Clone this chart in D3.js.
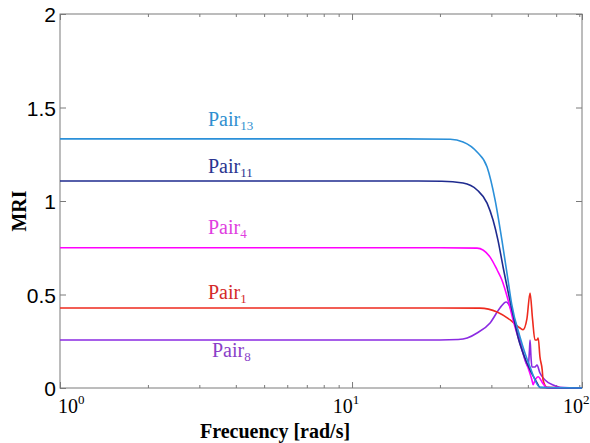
<!DOCTYPE html>
<html>
<head>
<meta charset="utf-8">
<script src="https://cdn.jsdelivr.net/npm/d3@7"></script>
<style>
  body { margin: 0; background: #fff; }
  svg { display: block; }
  .tick-label { font-family: "Liberation Sans", Arial, sans-serif; font-size: 21px; fill: #000; }
  .serif { font-family: "Liberation Serif", "Times New Roman", serif; }
</style>
</head>
<body>
<svg id="chart"></svg>
<script>
(function () {

// Series values: [frequency rad/s, MRI]
const pair13 = [[1,1.332],[15,1.332],[21.7,1.33],[24,1.316],[26.8,1.262],[29,1.182],[30.9,1.005],[32.6,0.791],[34.2,0.578],[35.2,0.45],[37.6,0.273],[40.7,0.112],[44,0.004],[61.3,0]];
const pair11 = [[1,1.107],[15,1.107],[20.3,1.106],[24,1.096],[26.8,1.059],[29,0.989],[30.4,0.898],[31.6,0.791],[32.9,0.647],[35.3,0.417],[37,0.273],[39.7,0.134],[43,0.027],[44,0.003],[61.3,0]];
const pair4  = [[1,0.75],[20,0.75],[26.8,0.748],[29.7,0.70],[31.4,0.631],[32.6,0.578],[34,0.487],[35.6,0.364],[38.5,0.187],[41.3,0.043],[41.7,0.018],[42.3,0.04],[43.4,0.06],[44.8,0.03],[46.5,0.002],[61.3,0]];
const pair1  = [[1,0.428],[20,0.428],[27.4,0.427],[31.4,0.406],[34.8,0.364],[37.6,0.321],[38.5,0.312],[39.7,0.37],[40.7,0.508],[41.5,0.37],[42.3,0.257],[43,0.257],[43.4,0.267],[44,0.166],[44.8,0.096],[45.1,0.043],[46.5,0.004],[61.3,0]];
const pair8  = [[1,0.257],[20,0.257],[23.1,0.259],[24.8,0.267],[26.8,0.294],[29.7,0.348],[32.1,0.428],[33.7,0.46],[34.8,0.433],[36.2,0.353],[37.6,0.257],[39.1,0.15],[40.1,0.115],[40.5,0.2],[40.7,0.257],[41,0.166],[41.3,0.112],[42.3,0.112],[43,0.123],[44,0.08],[45.8,0.043],[48.8,0.016],[51.6,0.004],[61.3,0]];

const seriesNames = ["13", "11", "4", "1", "8"];
const seriesData = [pair13, pair11, pair4, pair1, pair8];
const lineColors = ["#2b90d9", "#1f2b8f", "#ff00ff", "#ee2a1e", "#8b2be2"];
const labelColors = ["#2f8fd0", "#2a3590", "#e03ee0", "#d42a2a", "#8a3fc8"];

// Axis ticks
const freqMax = 61.3;  // right edge of the axis as drawn
const xMajor = [1, 10, freqMax];
const xMajorExp = ["0", "1", "2"];
const xMinor = [2,3,4,5,6,7,8,9,20,30,40,50,60];
const yTicks = [0, 0.5, 1, 1.5, 2];

// Set the dimensions and margins of the chart
const margin = {top: 14, right: 8, bottom: 55, left: 60},
    width = 590 - margin.left - margin.right,
    height = 443 - margin.top - margin.bottom;

const svg = d3.select("#chart")
    .attr("width", width + margin.left + margin.right)
    .attr("height", height + margin.top + margin.bottom)
  .append("g")
    .attr("transform", `translate(${margin.left},${margin.top})`);

const x = d3.scaleLog().domain([1, freqMax]).range([0, width]);
const y = d3.scaleLinear().domain([0, 2]).range([height, 0]);

// frame
svg.append("rect")
    .attr("width", width).attr("height", height)
    .attr("fill", "none").attr("stroke", "#7a7a7a").attr("stroke-width", 1);

// ticks pointing inward on all four sides
function styleAxis(g) {
  g.select(".domain").remove();
  g.selectAll(".tick line").attr("stroke", "#7a7a7a");
}
svg.append("g").attr("transform", `translate(0,${height})`)
    .call(d3.axisBottom(x).tickValues(xMinor).tickSize(-3).tickFormat(""))
    .call(styleAxis);
svg.append("g")
    .call(d3.axisTop(x).tickValues(xMinor).tickSize(-3).tickFormat(""))
    .call(styleAxis);
svg.append("g").attr("transform", `translate(0,${height})`)
    .call(d3.axisBottom(x).tickValues(xMajor).tickSize(-6).tickFormat(""))
    .call(styleAxis);
svg.append("g")
    .call(d3.axisTop(x).tickValues(xMajor).tickSize(-6).tickFormat(""))
    .call(styleAxis);

svg.append("g")
    .call(d3.axisLeft(y).tickValues(yTicks).tickSize(-6).tickPadding(4).tickFormat(d3.format("")))
    .call(styleAxis)
    .call(g => g.selectAll("text").attr("class", "tick-label").attr("font-size", null).attr("font-family", null).attr("dy", "0.36em"));
svg.append("g").attr("transform", `translate(${width},0)`)
    .call(d3.axisRight(y).tickValues(yTicks).tickSize(-6).tickFormat(""))
    .call(styleAxis);

// x tick labels: 10^n
const anchors = ["start", "middle", "start"];
const shifts = [-2, -6, -19];
xMajor.forEach((v, i) => {
  const t = svg.append("text")
      .attr("class", "serif")
      .attr("x", x(v) + shifts[i])
      .attr("y", height + 25)
      .attr("text-anchor", anchors[i])
      .attr("font-size", 20);
  t.append("tspan").text("10");
  t.append("tspan").attr("font-size", 13).attr("dy", -9).text(xMajorExp[i]);
});

// axis titles
svg.append("text")
    .attr("class", "serif")
    .attr("x", 215)
    .attr("y", height + 50)
    .attr("text-anchor", "middle")
    .attr("font-weight", "bold")
    .attr("font-size", 20)
    .text("Frecuency [rad/s]");

svg.append("text")
    .attr("class", "serif")
    .attr("transform", `translate(-34,${197}) rotate(-90)`)
    .attr("text-anchor", "middle")
    .attr("font-weight", "bold")
    .attr("font-size", 20)
    .text("MRI");

// curves
const line = d3.line()
    .x(d => x(d[0]))
    .y(d => y(d[1]))
    .curve(d3.curveMonotoneX);

const plot = svg.append("g");
[4, 3, 2, 1, 0].forEach(i => {
  plot.append("path")
      .datum(seriesData[i])
      .attr("fill", "none")
      .attr("stroke", lineColors[i])
      .attr("stroke-width", 1.6)
      .attr("d", line);
});

// series labels (pixel offsets inside the plot)
const labelPos = [[148, 112], [148, 159], [148, 220], [148, 285], [152, 343]];
seriesNames.forEach((n, i) => {
  const t = svg.append("text")
      .attr("class", "serif")
      .attr("x", labelPos[i][0])
      .attr("y", labelPos[i][1])
      .attr("fill", labelColors[i])
      .attr("font-size", 20);
  t.append("tspan").text("Pair");
  t.append("tspan").attr("font-size", 13).attr("dy", 4).text(n);
});

})();
</script>
</body>
</html>
